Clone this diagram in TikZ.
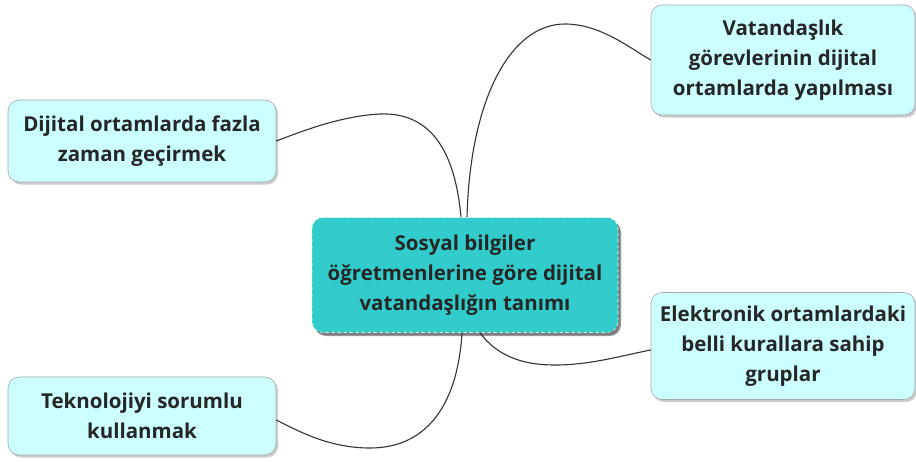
\documentclass[tikz,border=0pt]{standalone}
\usepackage{fontspec}
\setmainfont{Open Sans}
\usetikzlibrary{shadows}
\definecolor{tealbox}{HTML}{33CCCC}
\definecolor{icebox}{HTML}{CCFFFF}
\begin{document}
\begin{tikzpicture}[x=1pt,y=-1pt,
    topic/.style ={rounded corners=11pt, fill=icebox, draw=black!35, line width=0.6pt,
      align=center, inner sep=0pt, text=black!85,
      font=\bfseries\fontsize{20.5}{30}\selectfont,
      drop shadow={shadow xshift=2pt, shadow yshift=-2.5pt, fill=black!40}},
    maintopic/.style ={topic, fill=tealbox, draw=white!85!tealbox, dashed,
      drop shadow={shadow xshift=3pt, shadow yshift=-3.5pt, fill=black!80}},
    link/.style ={line width=1.1pt, draw=black!80}]
   \useasboundingbox (0,0) rectangle (916,461);
   \node[maintopic, minimum width=306pt, minimum height=115pt] (tanim) at (465,275)
     {Sosyal bilgiler\\ öğretmenlerine göre dijital\\ vatandaşlığın tanımı};
   \node[topic, minimum width=264pt, minimum height=110pt] (gorev) at (783,60)
     {Vatandaşlık\\ görevlerinin dijital\\ ortamlarda yapılması};
   \node[topic, minimum width=268pt, minimum height=82pt] (zaman) at (142,141)
     {Dijital ortamlarda fazla\\ zaman geçirmek};
   \node[topic, minimum width=264pt, minimum height=107pt] (grup) at (783,346)
     {Elektronik ortamlardaki\\ belli kurallara sahip\\ gruplar};
   \node[topic, minimum width=268pt, minimum height=78pt] (sorum) at (142,416)
     {Teknolojiyi sorumlu\\ kullanmak};
   \draw[link] ([xshift=-4pt]tanim.north) .. controls (455,150) and (430,112) .. (380,114)
     .. controls (340,116) and (300,132) .. (zaman.east);
   \draw[link] ([xshift=2pt]tanim.north) .. controls (470,100) and (510,24) .. (565,24)
     .. controls (600,24) and (630,48) .. (gorev.west);
   \draw[link] ([xshift=-3pt]tanim.south) .. controls (458,400) and (430,448) .. (370,448)
     .. controls (330,448) and (300,432) .. ([yshift=-4pt]sorum.east);
   \draw[link] ([xshift=15pt]tanim.south) .. controls (500,360) and (530,365) .. (555,365)
     .. controls (590,365) and (620,356) .. ([yshift=-4pt]grup.west);
\end{tikzpicture}
\end{document}
